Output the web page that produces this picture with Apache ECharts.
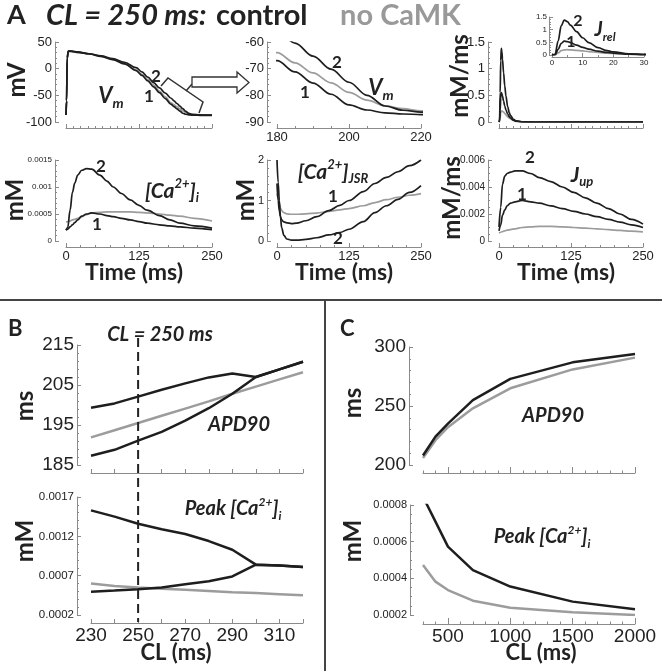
<!DOCTYPE html>
<html><head><meta charset="utf-8">
<script src="https://cdn.jsdelivr.net/npm/echarts@6.0.0/dist/echarts.min.js"></script>
<style>html,body{margin:0;padding:0;background:#fff;}#chart{width:662px;height:671px;}</style>
</head><body><div id="chart"></div>
<script>
// ================= DATA =================
// Panel A – Vm (mV) vs time (ms)
const tVm = [0,1,2,4,10,20,40,60,80,100,120,130,140,150,160,170,180,185,190,195,200,205,210,215,220,230,240,250];
const vmCtrl2 = [-87,-60,20,33,33,31.5,28,24,19,12,2,-6,-16,-26,-36,-46,-55.5,-60.4,-65.3,-70.2,-75.1,-80,-84,-85.6,-86.3,-86.8,-87,-87];
const vmCtrl1 = [-87,-60,20,33,32.5,30.5,27.5,23,17,9,-3.5,-12.5,-23,-34,-45,-56,-67,-71.2,-75.4,-79.6,-83.6,-85.5,-86.6,-87,-87.2,-87.4,-87.4,-87.4];
const vmNoCaMK = [-87,-60,20,32,32,30.5,27.5,23,17.5,9.5,-2,-10.5,-20.5,-31,-42,-53,-64,-67.8,-71.6,-75.3,-78.9,-81.8,-83.9,-85,-85.8,-86.5,-86.8,-86.9];
// Jrel (mM/ms)
const tJrel = [0,1,2,3,4,5,6,8,10,12,15,18,20,25,30,40,60,100,150,200,250];
const jrelCtrl2 = [0,0.03,0.55,1.15,1.38,1.32,1.18,0.92,0.68,0.49,0.29,0.17,0.12,0.05,0.02,0.005,0,0,0,0,0];
const jrelCtrl1 = [0,0.01,0.22,0.46,0.55,0.53,0.49,0.39,0.3,0.23,0.15,0.1,0.075,0.035,0.015,0.004,0,0,0,0,0];
const jrelNoCaMK = [0,0.005,0.08,0.17,0.2,0.21,0.2,0.185,0.16,0.135,0.1,0.075,0.06,0.03,0.012,0.003,0,0,0,0,0];
// [Ca2+]i (mM)
const tCai = [0,3,7,11,15,20,27,35,44,58,70,81,95,110,125,139,160,178,195,220,250];
const caiCtrl2 = [0.0002,0.00025,0.00057,0.0009,0.00107,0.00122,0.00131,0.00134,0.00133,0.00122,0.00111,0.001,0.00088,0.00076,0.00066,0.00057,0.00047,0.00039,0.00033,0.00028,0.00024];
const caiCtrl1 = [0.0002,0.00022,0.00026,0.0003,0.00034,0.00039,0.00046,0.0005,0.00052,0.0005,0.00047,0.00045,0.00042,0.00039,0.00036,0.00033,0.0003,0.00028,0.00026,0.00024,0.00021];
const caiNoCaMK = [0.00035,0.00036,0.00037,0.00039,0.0004,0.00042,0.00045,0.00049,0.00052,0.00053,0.00054,0.00054,0.00054,0.00054,0.00053,0.00052,0.0005,0.00048,0.00046,0.00042,0.00037];
// [Ca2+]JSR (mM)
const tJsr = [0,2,4,6,8,12,17,25,34,50,69,90,109,125,150,170,190,210,230,250];
const jsrCtrl2 = [2.0,1.45,1.0,0.6,0.33,0.14,0.05,0.02,0.02,0.04,0.08,0.15,0.21,0.29,0.48,0.7,0.87,1.03,1.2,1.37];
const jsrCtrl1 = [1.42,1.0,0.75,0.6,0.52,0.47,0.45,0.43,0.44,0.5,0.6,0.75,0.88,1.0,1.22,1.42,1.57,1.71,1.86,2.0];
const jsrNoCaMK = [1.17,1.05,0.92,0.82,0.75,0.7,0.67,0.66,0.66,0.67,0.69,0.73,0.77,0.8,0.87,0.95,1.02,1.08,1.13,1.17];
// Jup (mM/ms)
const tJup = [0,3,6,10,14,20,28,40,55,70,90,110,130,150,170,190,210,230,250];
const jupCtrl2 = [0.00104,0.0025,0.0042,0.0048,0.005,0.0051,0.0052,0.0052,0.005,0.0047,0.0044,0.004,0.0036,0.0032,0.0028,0.0024,0.002,0.0016,0.00125];
const jupCtrl1 = [0.00075,0.0012,0.0019,0.0023,0.0026,0.0028,0.0029,0.003,0.0029,0.0028,0.0026,0.0024,0.0022,0.002,0.0018,0.0016,0.0014,0.0012,0.001];
const jupNoCaMK = [0.0006,0.00065,0.0007,0.00075,0.0008,0.00085,0.0009,0.001,0.00105,0.00108,0.00108,0.00105,0.001,0.00095,0.0009,0.00084,0.00078,0.00073,0.00068];
// Panel B – CL 230..320 ms
const clB = [230,240,250,260,270,280,290,300,310,320];
const apdCtrlUpperB = [199.3,200.4,202.1,203.8,205.4,206.9,207.9,207.0,208.9,210.8];
const apdCtrlLowerB = [187.3,188.8,191.1,193.3,196.1,199.2,202.8,207.0,208.9,210.8];
const apdNoCaMKB = [191.9,193.7,195.5,197.3,199.1,200.9,202.8,204.6,206.4,208.2];
const caCtrlUpperB = [0.00153,0.00145,0.00136,0.00129,0.00123,0.00114,0.00103,0.00084,0.00083,0.00081];
const caCtrlLowerB = [0.000496,0.00051,0.000526,0.00055,0.00059,0.00063,0.00069,0.00084,0.00083,0.00081];
const caNoCaMKB = [0.0006,0.00057,0.00055,0.000535,0.00052,0.000505,0.00049,0.00048,0.000465,0.00045];
// Panel C – CL 300..2000 ms
const clC = [300,400,500,700,1000,1500,2000];
const apdCtrlC = [208,224,235,255,273,287,294];
const apdNoCaMKC = [206,221,232,248,265,281,291];
const caCtrlC = [0.000845,0.000709,0.000573,0.000445,0.000355,0.000273,0.000231];
const caNoCaMKC = [0.000473,0.000382,0.000336,0.000278,0.00024,0.000215,0.0002];
const clMarker = 250;

// ================= CHART =================
const FT = '"Liberation Sans", Arial, sans-serif';
const FB = 'Lato, "Open Sans", sans-serif';
const DARK = '#1e1e1e', GRAY = '#9c9c9c', AX = '#8a8a8a';
const grids = [], xAxis = [], yAxis = [], series = [];

function plot(g) {
  const i = grids.length;
  grids.push({left: g.l, top: g.t, width: g.w, height: g.h});
  xAxis.push({
    gridIndex: i, type: 'value', position: 'bottom', min: g.x[0], max: g.x[1], interval: g.x[2], offset: g.xo || 0,
    axisLine: {show: true, onZero: false, lineStyle: {color: AX, width: 1}},
    axisTick: {show: true, inside: true, length: g.xtl || 4, lineStyle: {color: AX}},
    minorTick: {show: !!g.xm, splitNumber: g.xm || 5, length: 2, lineStyle: {color: AX}},
    splitLine: {show: false},
    axisLabel: {show: !!g.xf, fontSize: g.xfs || 13, color: '#222', fontFamily: FT, margin: g.xmg || 3,
      formatter: typeof g.xf === 'function' ? g.xf : null, showMinLabel: true, showMaxLabel: true}
  });
  yAxis.push({
    gridIndex: i, type: 'value', position: 'left', min: g.y[0], max: g.y[1], interval: g.y[2], offset: g.yo || 0,
    axisLine: {show: true, onZero: false, lineStyle: {color: AX, width: 1}},
    axisTick: {show: true, inside: true, length: 4, lineStyle: {color: AX}},
    minorTick: {show: !!g.ym, splitNumber: g.ym || 5, length: 2, lineStyle: {color: AX}},
    splitLine: {show: false},
    axisLabel: {show: true, fontSize: g.yfs || 13, color: '#222', fontFamily: FT, margin: g.ymg || 3,
      formatter: typeof g.yf === 'function' ? g.yf : null, showMinLabel: true, showMaxLabel: true}
  });
  return i;
}
function line(gi, xs, ys, color, width, smooth) {
  series.push({
    type: 'line', xAxisIndex: gi, yAxisIndex: gi,
    data: xs.map((x, k) => [x, ys[k]]), showSymbol: false, symbol: 'none',
    smooth: smooth || false, smoothMonotone: 'x', clip: true, silent: true,
    lineStyle: {color: color, width: width}, itemStyle: {color: color}, animation: false
  });
}
const f4 = v => v.toFixed(4);
const fTrim = v => v === 0 ? '0' : String(+v.toFixed(4));

// Panel A row 1
const gVm = plot({l:66,t:42,w:146,h:80,x:[0,250,125],xm:10,xo:6,y:[-100,50,50],ym:5,yo:11});
const gVz = plot({l:277,t:42,w:144,h:80,x:[180,220,20],xm:4,xo:6,xf:true,y:[-90,-60,10],ym:5,yo:10});
const gJr = plot({l:499,t:42,w:144,h:80,x:[0,250,125],xm:10,xo:6,y:[0,1.5,0.5],ym:5,yo:11});
const gJi = plot({l:552,t:17,w:92,h:38,x:[0,30,10],xm:2,xo:2,xf:true,xfs:8,xmg:2,y:[0,1.5,0.5],ym:5,yo:3,yfs:8,ymg:2});
// Panel A row 2
const gCi = plot({l:66,t:160,w:146,h:81,x:[0,250,125],xm:5,xo:6,xf:true,y:[0,0.0015,0.0005],ym:5,yo:11,yfs:8,yf:fTrim});
const gJs = plot({l:277,t:160,w:144,h:81,x:[0,250,125],xm:5,xo:6,xf:true,y:[0,2,1],ym:5,yo:10,yfs:11});
const gJu = plot({l:499,t:160,w:144,h:81,x:[0,250,125],xm:5,xo:6,xf:true,y:[0,0.006,0.002],ym:4,yo:11,yfs:10,yf:fTrim});
// Panel B
const bx = v => ((v - 230) % 20 === 0 ? String(v) : '');
const gBa = plot({l:91,t:345,w:212,h:120,x:[230,320,10],xo:8,y:[185,215,10],ym:5,yo:14,yfs:19});
const gBc = plot({l:91,t:497,w:212,h:118,x:[230,320,10],xo:8,xf:bx,xfs:19,y:[0.0002,0.0017,0.0005],ym:5,yo:14,yfs:11.5,yf:f4});
// Panel C
const cx = v => (v % 500 === 0 ? String(v) : '');
const gCa = plot({l:423,t:347,w:212,h:118,x:[300,2000,100],xtl:2.5,xo:8,y:[200,300,50],ym:5,yo:14,yfs:19});
const gCc = plot({l:423,t:505,w:212,h:110,x:[300,2000,100],xtl:2.5,xo:9,xf:cx,xfs:19,y:[0.0002,0.0008,0.0002],ym:4,yo:13,yfs:11,yf:f4});
[[gCa,8],[gCc,9]].forEach(([gi,off]) => {
  xAxis.push({gridIndex: gi, type:'value', position:'bottom', min:300, max:2000, offset: off,
    axisLine:{show:false, onZero:false}, splitLine:{show:false}, axisLabel:{show:false},
    axisTick:{show:true, inside:true, length:6, customValues:[500,1000,1500,2000], lineStyle:{color:AX}}});
});

const S = 0.35;
const W1 = 1.7;
[[vmNoCaMK,GRAY],[vmCtrl1,DARK],[vmCtrl2,DARK]].forEach(([d,c]) => { line(gVm,tVm,d,c,W1,S); line(gVz,tVm,d,c,W1,S); });
[[jrelNoCaMK,GRAY],[jrelCtrl1,DARK],[jrelCtrl2,DARK]].forEach(([d,c]) => { line(gJr,tJrel,d,c,W1,S); line(gJi,tJrel,d,c,W1,S); });
[[caiNoCaMK,GRAY],[caiCtrl1,DARK],[caiCtrl2,DARK]].forEach(([d,c]) => line(gCi,tCai,d,c,W1,S));
[[jsrNoCaMK,GRAY],[jsrCtrl1,DARK],[jsrCtrl2,DARK]].forEach(([d,c]) => line(gJs,tJsr,d,c,W1,S));
[[jupNoCaMK,GRAY],[jupCtrl1,DARK],[jupCtrl2,DARK]].forEach(([d,c]) => line(gJu,tJup,d,c,W1,S));
const W2 = 2.5;
line(gBa,clB,apdNoCaMKB,GRAY,W2); line(gBa,clB,apdCtrlUpperB,DARK,W2); line(gBa,clB,apdCtrlLowerB,DARK,W2);
line(gBc,clB,caNoCaMKB,GRAY,W2); line(gBc,clB,caCtrlUpperB,DARK,W2); line(gBc,clB,caCtrlLowerB,DARK,W2);
line(gCa,clC,apdNoCaMKC,GRAY,W2); line(gCa,clC,apdCtrlC,DARK,W2);
line(gCc,clC,caNoCaMKC,GRAY,W2); line(gCc,clC,caCtrlC,DARK,W2);

const chart = echarts.init(document.getElementById('chart'), null, {renderer:'canvas'});
chart.setOption({backgroundColor:'#fff', animation:false, grid:grids, xAxis:xAxis, yAxis:yAxis, series:series});

// ---------- text & decorations ----------
function T(x, y, text, o) {
  o = o || {};
  const st = {text: text, fill: o.c || '#222', fontFamily: o.ff || FB, fontSize: o.fs || 18,
    fontWeight: o.w || 'bold', fontStyle: o.it ? 'italic' : 'normal',
    align: o.al || 'center', verticalAlign: 'middle'};
  if (o.rich) st.rich = o.rich;
  return {type:'text', x:x, y:y, rotation:o.rot || 0, z:20, style: st};
}
function richSet(fs) {
  const base = {fontFamily:FB, fontWeight:'bold', fontStyle:'italic', fill:'#222', color:'#222'};
  return {
    a: Object.assign({}, base, {fontSize: fs, lineHeight: Math.round(fs*1.3), verticalAlign:'middle'}),
    s: Object.assign({}, base, {fontSize: Math.round(fs*0.6), lineHeight: Math.round(fs*0.7), verticalAlign:'top'}),
    u: Object.assign({}, base, {fontSize: Math.round(fs*0.62), lineHeight: Math.round(fs*0.7), verticalAlign:'bottom'})
  };
}
const g = [];
// title row
g.push(T(7,15,'A',{fs:27,al:'left'}));
g.push(T(46,16,'CL = 250 ms:',{fs:29,it:true,al:'left'}));
g.push(T(216,16,'control',{fs:29,al:'left'}));
g.push(T(461,16,'no CaMK',{fs:29,al:'right',c:'#999'}));
// axis titles
g.push(T(17,80,'mV',{fs:24,rot:Math.PI/2}));
g.push(T(460,76,'mM/ms',{fs:24,rot:Math.PI/2}));
g.push(T(15,200,'mM',{fs:24,rot:Math.PI/2}));
g.push(T(246,200,'mM',{fs:24,rot:Math.PI/2}));
g.push(T(452,198,'mM/ms',{fs:24,rot:Math.PI/2}));
[134,344,566].forEach(x => g.push(T(x,273,'Time (ms)',{fs:23})));
// curve labels row 1
g.push(T(111,96,'{a|V}{u|m}',{rich:richSet(22)}));
g.push(T(156,77,'2',{fs:17})); g.push(T(149,97,'1',{fs:17}));
g.push(T(337,63,'2',{fs:17})); g.push(T(305,93,'1',{fs:17}));
g.push(T(381,88,'{a|V}{u|m}',{rich:richSet(22)}));
g.push(T(578,21,'2',{fs:16})); g.push(T(571,42,'1',{fs:16}));
g.push(T(605,30,'{a|J}{u|rel}',{rich:richSet(20)}));
// curve labels row 2
g.push(T(101,167,'2',{fs:17})); g.push(T(97,225,'1',{fs:17}));
g.push(T(172,191,'{a|[Ca}{s|2+}{a|]}{u|i}',{rich:richSet(21)}));
g.push(T(333,172,'{a|[Ca}{s|2+}{a|]}{u|JSR}',{rich:richSet(21)}));
g.push(T(333,197,'1',{fs:17})); g.push(T(338,239,'2',{fs:17}));
g.push(T(530,158,'2',{fs:17})); g.push(T(522,195,'1',{fs:17}));
g.push(T(582,175,'{a|J}{u|up}',{rich:richSet(21)}));
// bracket + arrow
g.push({type:'polyline', z:15, shape:{points:[[161,86],[168,78],[203,102],[199,113]]}, style:{stroke:'#333', lineWidth:1.5, fill:null}});
g.push({type:'line', z:15, shape:{x1:186,y1:91,x2:192,y2:84}, style:{stroke:'#333', lineWidth:1.5}});
g.push({type:'polygon', z:15, shape:{points:[[192,77],[237,77],[237,72],[249,82.5],[237,93],[237,87],[192,87]]}, style:{stroke:'#333', lineWidth:1.3, fill:'#fff'}});
// separators
g.push({type:'line', z:15, shape:{x1:0,y1:300,x2:662,y2:300}, style:{stroke:'#444', lineWidth:2}});
g.push({type:'line', z:15, shape:{x1:325,y1:300,x2:325,y2:671}, style:{stroke:'#444', lineWidth:2}});
// panel B
g.push(T(8,329,'B',{fs:22,al:'left'}));
g.push(T(160,335,'CL = 250 ms',{fs:20,it:true}));
g.push(T(25,406,'ms',{fs:24,rot:Math.PI/2}));
g.push(T(239,425,'APD90',{fs:20,it:true}));
g.push(T(25,541,'mM',{fs:24,rot:Math.PI/2}));
g.push(T(233,509,'{a|Peak [Ca}{s|2+}{a|]}{u|i}',{rich:richSet(20)}));
g.push(T(176,653,'CL (ms)',{fs:22}));
// panel C
g.push(T(340,329,'C',{fs:22,al:'left'}));
g.push(T(353,403,'ms',{fs:24,rot:Math.PI/2}));
g.push(T(553,416,'APD90',{fs:20,it:true}));
g.push(T(353,541,'mM',{fs:24,rot:Math.PI/2}));
g.push(T(542,537,'{a|Peak [Ca}{s|2+}{a|]}{u|i}',{rich:richSet(20)}));
g.push(T(541,653,'CL (ms)',{fs:22}));
// dashed CL marker through panel B, positioned through the axis scale
const xm = chart.convertToPixel({xAxisIndex: gBa}, clMarker);
g.push({type:'line', z:14, shape:{x1:xm,y1:338,x2:xm,y2:622}, style:{stroke:'#222', lineWidth:2, lineDash:[9,5]}});
chart.setOption({graphic: g});
</script></body></html>
